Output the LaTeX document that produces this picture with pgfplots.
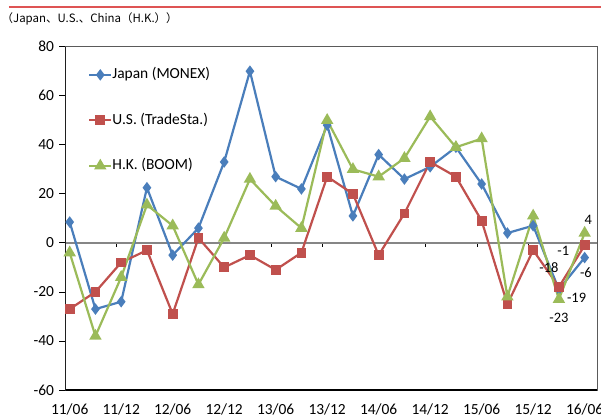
\documentclass[border=0pt]{standalone}
\usepackage{fontspec}
\setmainfont{Carlito}
\newfontfamily\jpfont{Noto Sans CJK JP}
\usepackage{pgfplots}
\usepackage{pgfplotstable}
\pgfplotsset{compat=1.18}

\definecolor{jpblue}{RGB}{74,126,187}
\definecolor{usred}{RGB}{192,80,77}
\definecolor{hkgreen}{RGB}{155,187,89}
\definecolor{topred}{RGB}{222,84,84}
\definecolor{zerogray}{RGB}{134,134,134}
\definecolor{framegray}{RGB}{90,90,90}

% quarterly figures, 11/06 (x=0) to 16/06 (x=20)
\pgfplotstableread{
x  jp    us   hk
0  8.5  -27   -4
1  -27  -20  -38
2  -24   -8  -14
3  22.5  -3  15.5
4  -5   -29    7
5  6      2  -17
6  33   -10    2
7  70    -5   26
8  27   -11   15
9  22    -4    6
10 48    27   50
11 11    20   30
12 36    -5   27
13 26    12   34.5
14 31    33   51.5
15 39    27   39
16 24     9   42.5
17 4    -25  -22
18 7     -3   11
19 -19  -18  -23
20 -6    -1    4
}\datatable

% value labels on the last two quarters: x y dx dy (offsets in bp)
\pgfplotstableread{
x  y   dx    dy
19 -19 17.7 -8.7
20 -6  1.3  -15
}\jplabels
\pgfplotstableread{
x  y   dx    dy
19 -18 -10   19
20 -1  -21.4 -6
}\uslabels
\pgfplotstableread{
x  y   dx   dy
19 -23 0    -19
20 4   3.6  13
}\hklabels

\pgfplotsset{
  common/.style={
    at={(0,0)}, anchor=south west,
    scale only axis, width=531.5bp, height=343.3bp,
    xmin=-0.163, xmax=20.48, ymin=-60, ymax=80,
  },
  vlabels/.style={
    draw=none, mark=none, forget plot,
    nodes near coords, point meta=y,
    visualization depends on={\thisrow{dx} \as \dx},
    visualization depends on={\thisrow{dy} \as \dy},
    nodes near coords style={anchor=center, inner sep=0pt, xshift=\dx bp, yshift=\dy bp,
      font=\fontsize{14.5}{17}\selectfont, text=black},
  },
}

\begin{document}
\begin{tikzpicture}
% zero line with its quarter ticks
\begin{axis}[common,
  axis x line=middle, axis y line=none,
  x axis line style={-, draw=zerogray, line width=1.4bp},
  xtick={1.83,3.83,...,19.83}, xticklabels={},
  xtick align=outside, major tick length=4bp,
  x tick style={black, line width=0.8bp},
  ytick=\empty,
]
\addplot[draw=none] coordinates {(0,0)};
\end{axis}

\begin{axis}[common,
  axis line style={draw=framegray, line width=0.8bp},
  ytick={-60,-40,...,80},
  xtick={0,2,...,20},
  xticklabels={11/06,11/12,12/06,12/12,13/06,13/12,14/06,14/12,15/06,15/12,16/06},
  x tick style={draw=none},
  y tick style={black, line width=0.8bp},
  tick align=outside, major tick length=6bp,
  ytick pos=left,
  /pgf/number format/assume math mode=true,
  tick label style={font=\fontsize{15.5}{18}\selectfont},
  yticklabel style={anchor=east, xshift=-2bp},
  xticklabel style={anchor=north, yshift=-4bp},
  legend style={at={(axis description cs:0,1)}, anchor=north west,
    xshift=22.5bp, yshift=-21bp, draw=none, fill=none, inner sep=0pt,
    row sep=31.5bp, font=\fontsize{15.5}{18}\selectfont,
    nodes={inner sep=0pt, text height=11bp, text depth=3bp}},
  legend cell align=left,
  legend image code/.code={%
    \draw[mark repeat=2, mark phase=2, #1] plot coordinates {(0bp,0bp) (11bp,0bp) (22bp,0bp)};},
  every axis plot/.append style={line width=2.2bp},
]
\addplot[color=jpblue, mark=diamond*, mark size=4bp, mark options={solid, fill=jpblue}] table[x=x, y=jp] {\datatable};
\addlegendentry{Japan (MONEX)}
\addplot[color=usred, mark=square*, mark size=3.8bp, mark options={solid, fill=usred}] table[x=x, y=us] {\datatable};
\addlegendentry{U.S. (TradeSta.)}
\addplot[color=hkgreen, mark=triangle*, mark size=5bp, mark options={solid, fill=hkgreen}] table[x=x, y=hk] {\datatable};
\addlegendentry{H.K. (BOOM)}

\addplot[vlabels] table[x=x, y=y] {\jplabels};
\addplot[vlabels] table[x=x, y=y] {\uslabels};
\addplot[vlabels] table[x=x, y=y] {\hklabels};

% left and bottom axis lines in black
\draw[black, line width=1.1bp] (rel axis cs:0,1) -- (rel axis cs:0,0) -- (rel axis cs:1,0);
\end{axis}

% heading rule and region note
\draw[topred, line width=2.3bp] (-56.5bp,382.7bp) -- (535.5bp,382.7bp);
\node[anchor=west, inner sep=0pt, font=\jpfont\fontsize{11.5}{14}\selectfont] at (-64bp,371bp) {（Japan、U.S.、China（H.K.））};

\pgfresetboundingbox
\path[use as bounding box] (-65.5bp,-28bp) rectangle (535.5bp,390bp);
\end{tikzpicture}
\end{document}
